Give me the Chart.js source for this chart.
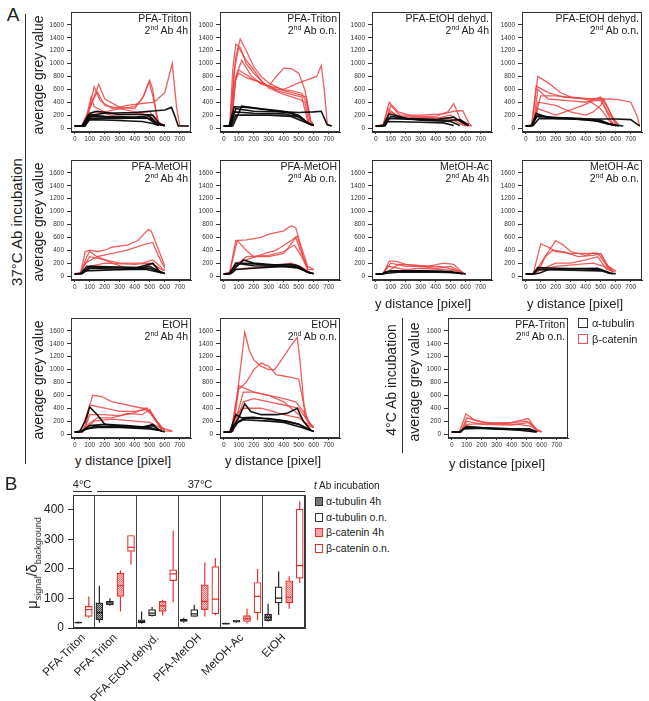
<!DOCTYPE html>
<html>
<head>
<meta charset="utf-8">
<script src="https://cdn.jsdelivr.net/npm/chart.js@4.4.0/dist/chart.umd.min.js"></script>
<style>
  body { margin:0; background:#fff; font-family:"Liberation Sans", Arial, sans-serif; color:#222; }
  #fig { position:relative; width:649px; height:701px; overflow:hidden; }
  .cv { position:absolute; }
  .ttl { position:absolute; text-align:right; font-size:10.5px; line-height:12px; white-space:nowrap; }
  .ttl sup { font-size:7px; line-height:0; vertical-align:4px; }
  .vl { position:absolute; transform:translate(-50%,-50%) rotate(-90deg); white-space:nowrap; }
  .hl { position:absolute; transform:translate(-50%,-50%); white-space:nowrap; }
  .ln { position:absolute; background:#333; }
  .sq { position:absolute; box-sizing:border-box; }
</style>
</head>
<body>
<div id="fig"></div>
<script>
// ---- panel A: tick labels ----
const xTicksA = [0, 100, 200, 300, 400, 500, 600, 700]
const yTicksA = [0, 200, 400, 600, 800, 1000, 1200, 1400, 1600]

// ---- panel A: profiles, [y distance, average grey value] ----
const tritonRed4h = [
  [[0,30],[45,30],[80,200],[110,480],[130,330],[200,250],[300,300],[400,330],[450,450],[500,740],[520,600],[550,100],[600,40]],
  [[0,30],[50,30],[100,300],[160,680],[200,450],[300,320],[400,300],[460,500],[495,720],[520,500],[560,80],[600,40]],
  [[0,30],[50,30],[90,250],[130,640],[170,420],[250,300],[350,350],[450,380],[530,400],[600,550],[650,1000],[680,300],[700,40],[760,30]],
  [[0,30],[60,30],[110,380],[150,560],[200,350],[300,300],[400,250],[480,200],[520,120],[570,40]],
  [[0,30],[60,30],[100,200],[130,260],[250,200],[400,220],[500,260],[540,100],[580,40]]
]
const tritonBlack4h = [
  [[0,30],[50,30],[100,230],[150,260],[300,210],[450,210],[520,200],[570,50],[600,40]],
  [[0,30],[70,30],[100,150],[300,150],[480,160],[530,80],[560,40]],
  [[0,30],[50,30],[90,200],[200,180],[400,170],[500,190],[540,80],[600,30]],
  [[0,30],[60,30],[100,130],[250,120],[450,100],[520,70],[560,40]],
  [[0,30],[60,30],[110,200],[200,230],[400,240],[600,280],[645,320],[665,200],[690,30],[760,30]],
  [[0,30],[60,30],[95,180],[300,160],[500,150],[560,60],[600,40]]
]
const tritonRedON = [
  [[0,30],[40,30],[60,600],[80,1100],[110,1380],[150,1200],[200,950],[250,800],[300,700],[400,580],[500,520],[550,480],[580,100],[600,50]],
  [[0,30],[40,30],[60,900],[80,1300],[110,1250],[150,1000],[200,850],[300,620],[400,520],[500,450],[540,400],[570,60]],
  [[0,30],[50,30],[80,800],[120,1050],[180,820],[250,680],[300,650],[350,800],[400,930],[450,920],[500,850],[540,600],[580,100],[600,50]],
  [[0,30],[50,30],[70,700],[100,900],[200,750],[300,650],[400,600],[500,700],[560,750],[620,800],[650,970],[670,600],[690,60],[720,30]],
  [[0,30],[50,30],[80,750],[100,850],[150,780],[250,700],[350,600],[450,580],[520,540],[550,400],[575,100]],
  [[0,30],[45,30],[70,900],[100,1250],[150,1050],[200,900],[260,700],[350,580],[450,520],[520,480],[560,100],[590,50]]
]
const tritonBlackON = [
  [[0,30],[35,30],[70,330],[150,320],[300,280],[450,230],[520,150],[580,50],[600,40]],
  [[0,30],[40,30],[70,250],[200,230],[400,220],[500,170],[570,60]],
  [[0,30],[45,30],[80,300],[200,260],[400,250],[500,240],[600,250],[650,260],[690,50],[720,30]],
  [[0,30],[50,30],[80,200],[300,200],[450,180],[530,100],[600,40]],
  [[0,30],[60,30],[120,340],[250,300],[400,260],[500,200],[560,80],[600,40]]
]
const dehydRed4h = [
  [[0,30],[50,50],[90,400],[150,250],[250,180],[400,180],[480,250],[520,380],[560,150],[600,50],[640,30]],
  [[0,30],[60,60],[100,350],[160,200],[300,200],[450,220],[520,260],[580,270],[620,80],[640,30]],
  [[0,30],[60,50],[90,250],[200,150],[400,150],[500,200],[560,100],[600,40]],
  [[0,30],[50,40],[80,300],[150,180],[350,160],[500,150],[550,80],[600,30]]
]
const dehydBlack4h = [
  [[0,30],[50,40],[90,220],[200,150],[400,130],[520,170],[580,80],[620,30]],
  [[0,30],[60,40],[100,180],[300,120],[500,100],[560,40]],
  [[0,30],[50,40],[80,150],[300,130],[500,120],[560,130],[620,50]],
  [[0,30],[60,30],[80,100],[300,90],[450,80],[520,40]]
]
const dehydRedON = [
  [[0,30],[40,50],[80,800],[150,700],[230,550],[300,480],[400,450],[500,460],[570,100],[600,30]],
  [[0,30],[40,50],[70,650],[150,550],[250,480],[350,460],[450,450],[550,450],[620,440],[700,400],[740,200],[760,30]],
  [[0,30],[50,50],[80,600],[150,450],[300,420],[400,400],[500,480],[550,300],[600,50]],
  [[0,30],[50,40],[80,400],[200,350],[300,250],[400,200],[450,250],[500,350],[520,450],[570,200],[620,50]],
  [[0,30],[50,40],[80,300],[200,200],[300,280],[380,350],[450,420],[500,430],[560,200],[620,30]],
  [[0,30],[50,40],[100,500],[200,500],[300,480],[400,460],[500,300],[560,100],[600,30]]
]
const dehydBlackON = [
  [[0,30],[40,40],[70,230],[150,160],[350,150],[500,120],[560,60],[620,30]],
  [[0,30],[40,40],[80,200],[200,150],[400,140],[600,140],[700,130],[760,30]],
  [[0,30],[40,40],[70,180],[300,150],[500,100],[600,40]],
  [[0,30],[50,40],[90,150],[300,140],[450,120],[550,60],[650,30]]
]
const metohRed4h = [
  [[0,30],[40,60],[70,380],[100,400],[150,380],[200,400],[250,450],[350,480],[420,550],[490,720],[510,700],[560,400],[600,150]],
  [[0,30],[40,50],[70,200],[150,300],[250,350],[350,400],[450,480],[520,520],[560,300],[600,120]],
  [[0,30],[40,50],[80,300],[100,380],[150,300],[250,200],[350,120],[450,120],[520,200],[560,120],[600,100]],
  [[0,30],[40,40],[60,150],[100,300],[200,250],[300,200],[450,200],[520,250],[580,130]],
  [[0,30],[40,40],[70,100],[100,150],[200,200],[400,180],[500,200],[600,80]]
]
const metohBlack4h = [
  [[0,30],[40,40],[80,150],[200,130],[400,120],[520,200],[560,80],[600,40]],
  [[0,30],[50,40],[100,120],[300,100],[480,100],[560,60],[600,40]],
  [[0,30],[40,40],[60,80],[200,90],[400,110],[500,120],[580,50]],
  [[0,30],[50,40],[100,150],[300,140],[450,130],[500,150],[580,50]]
]
const metohRedON = [
  [[0,30],[40,60],[80,550],[150,560],[250,600],[300,650],[400,700],[450,780],[480,750],[510,500],[560,150],[600,100]],
  [[0,30],[40,60],[90,550],[150,400],[200,300],[300,300],[400,350],[450,500],[480,600],[510,400],[560,120]],
  [[0,30],[40,50],[80,200],[150,250],[250,330],[350,400],[450,550],[490,620],[530,300],[560,100]],
  [[0,30],[40,50],[80,150],[150,300],[300,320],[400,380],[470,480],[520,300],[560,100],[600,100]],
  [[0,30],[40,40],[70,100],[150,120],[300,150],[450,200],[510,150],[560,80]]
]
const metohBlackON = [
  [[0,30],[40,40],[130,250],[200,200],[350,170],[480,170],[560,60],[600,40]],
  [[0,30],[40,40],[80,200],[200,160],[400,150],[500,150],[560,60]],
  [[0,30],[40,40],[70,150],[120,200],[300,170],[450,180],[520,100],[600,30]],
  [[0,30],[50,40],[80,100],[200,120],[400,150],[500,120],[580,40]]
]
const acRed4h = [
  [[0,30],[50,40],[90,230],[130,230],[200,180],[350,150],[450,200],[520,180],[580,50],[600,30]],
  [[0,30],[50,40],[100,200],[200,150],[300,150],[400,120],[500,150],[580,50]],
  [[0,30],[50,40],[80,150],[200,100],[300,120],[450,100],[550,80],[600,30]],
  [[0,30],[60,40],[100,100],[150,180],[300,160],[450,140],[520,100],[580,30]]
]
const acBlack4h = [
  [[0,30],[40,30],[60,60],[100,80],[300,80],[500,70],[580,30]],
  [[0,30],[40,30],[60,40],[150,60],[400,60],[550,50],[600,30]],
  [[0,30],[50,30],[80,70],[250,80],[450,70],[560,40]]
]
const acRedON = [
  [[0,30],[50,40],[100,500],[150,450],[200,380],[300,350],[400,350],[480,350],[530,200],[580,80]],
  [[0,30],[60,40],[100,200],[200,550],[250,480],[300,380],[400,320],[450,360],[500,340],[540,150],[580,60]],
  [[0,30],[60,40],[100,150],[130,300],[180,400],[250,380],[350,300],[450,320],[500,350],[550,150],[600,80]],
  [[0,30],[60,40],[100,100],[200,200],[300,200],[400,250],[480,300],[540,100],[600,60]],
  [[0,30],[50,40],[80,80],[200,150],[350,180],[450,200],[520,150],[580,80]]
]
const acBlackON = [
  [[0,30],[50,40],[80,130],[200,120],[400,110],[500,100],[560,50],[600,30]],
  [[0,30],[60,30],[100,50],[150,100],[300,110],[480,120],[560,40]],
  [[0,30],[50,30],[80,100],[300,90],[500,80],[580,30]]
]
const etohRed4h = [
  [[0,30],[40,30],[80,300],[120,600],[180,580],[250,500],[350,450],[450,400],[480,400],[530,250],[600,50],[650,40]],
  [[0,30],[50,30],[80,200],[100,450],[200,400],[300,350],[400,350],[470,380],[520,300],[580,60]],
  [[0,30],[50,30],[70,100],[100,300],[200,300],[300,280],[400,330],[480,400],[540,200],[600,50]],
  [[0,30],[50,30],[90,150],[150,250],[250,250],[350,320],[450,300],[500,380],[570,100],[650,50]],
  [[0,30],[50,30],[80,100],[130,200],[250,230],[400,200],[500,180],[600,60]]
]
const etohBlack4h = [
  [[0,30],[30,30],[70,200],[100,420],[150,300],[200,150],[300,120],[450,100],[520,150],[560,60],[600,30]],
  [[0,30],[50,50],[100,130],[200,150],[350,130],[500,100],[560,60]],
  [[0,30],[50,40],[70,80],[150,100],[300,100],[500,80],[580,50]],
  [[0,30],[40,40],[60,60],[130,120],[300,110],[450,110],[520,130],[580,40]]
]
const etohRedON = [
  [[0,30],[50,40],[90,600],[140,1580],[170,1300],[200,1150],[250,1050],[300,1000],[340,1000],[400,1200],[450,1380],[490,1500],[510,1100],[540,300],[580,100]],
  [[0,30],[60,40],[100,700],[150,800],[200,1000],[250,1100],[300,1050],[350,920],[400,900],[450,880],[500,850],[530,500],[560,200],[600,100]],
  [[0,30],[50,40],[100,750],[150,700],[200,650],[300,600],[400,500],[450,400],[500,300],[550,150],[600,100]],
  [[0,30],[60,40],[130,650],[200,650],[300,600],[400,550],[480,500],[530,350],[580,150]],
  [[0,30],[60,40],[130,500],[200,550],[300,500],[400,450],[500,400],[560,200],[600,100]],
  [[0,30],[50,40],[80,300],[130,400],[250,400],[400,300],[500,250],[560,150]]
]
const etohBlackON = [
  [[0,30],[40,30],[100,250],[140,470],[180,350],[250,300],[350,300],[420,320],[490,400],[530,200],[580,60]],
  [[0,30],[40,30],[80,300],[120,250],[200,260],[300,230],[400,200],[500,150],[580,60]],
  [[0,30],[50,30],[100,200],[150,250],[300,240],[420,200],[500,150],[560,80],[600,40]],
  [[0,30],[40,30],[70,150],[130,220],[300,200],[400,180],[520,100],[600,40]]
]
const cold4Red = [
  [[0,30],[50,30],[95,310],[150,220],[250,170],[400,180],[510,240],[570,50],[600,30]],
  [[0,30],[60,30],[100,250],[200,180],[350,160],[500,200],[560,80],[600,40]],
  [[0,30],[60,30],[100,200],[200,150],[400,140],[520,180],[570,50]],
  [[0,30],[60,30],[100,150],[250,160],[450,150],[530,120],[580,40]]
]
const cold4Black = [
  [[0,30],[50,30],[100,120],[200,100],[400,80],[520,80],[570,30]],
  [[0,30],[60,30],[90,100],[300,80],[500,70],[560,30]],
  [[0,30],[50,30],[80,80],[200,90],[450,60],[560,30]]
]

// ---- panel B: box plot, [min, q1, median, q3, max] per group ----
const boxGroups = ['PFA-Triton', 'PFA-Triton', 'PFA-EtOH dehyd.', 'PFA-MetOH', 'MetOH-Ac', 'EtOH']
const yTicksB = [0, 100, 200, 300, 400]
const tubulin4h = [null, [18,28,52,85,143], [15,17,22,28,56], [18,22,26,30,35], [12,13,15,17,18], [22,25,36,47,82]]
const tubulinON = [[15,17,18,20,22], [75,79,85,90,101], [39,42,50,62,71], [37,39,48,62,79], [18,20,23,26,28], [44,85,101,139,191]]
const catenin4h = [null, [56,107,143,186,195], [42,56,75,90,96], [39,62,90,146,222], [15,22,32,42,65], [65,85,104,160,175]]
const cateninON = [[34,39,62,73,107], [214,259,273,313,315], [87,160,183,197,329], [43,48,98,208,237], [26,51,107,154,200], [152,169,211,402,428]]

const fig = document.getElementById('fig')
const RED = 'rgba(236,66,66,0.85)'
const BLACK = 'rgba(8,8,8,0.95)'

const framePlugin = {
  id: 'frame',
  afterDraw(chart) {
    const { ctx, chartArea: a } = chart
    ctx.save()
    ctx.strokeStyle = '#333'
    ctx.lineWidth = 1
    ctx.strokeRect(Math.round(a.left) + 0.5, Math.round(a.top) + 0.5, Math.round(a.right - a.left) - 1, Math.round(a.bottom - a.top) - 1)
    ctx.restore()
  }
}

const addHtml = (cls, html, left, top, style) => {
  const d = document.createElement('div')
  d.className = cls
  d.innerHTML = html
  d.style.left = left + 'px'
  d.style.top = top + 'px'
  if (style) d.style.cssText += style
  fig.appendChild(d)
  return d
}

const toXY = (curve) => curve.map(p => ({ x: p[0], y: p[1] }))

const PW = 120, PH = 120, YAW = 34, XAH = 12

const drawPanel = (p) => {
  const c = document.createElement('canvas')
  c.width = YAW + PW + 2
  c.height = PH + XAH + 1
  c.className = 'cv'
  c.style.left = (p.left - YAW) + 'px'
  c.style.top = (p.top - 1) + 'px'
  fig.appendChild(c)

  const datasets = []
  p.black.forEach(cv => datasets.push({ data: toXY(cv), borderColor: BLACK, borderWidth: 1.6, showLine: true, pointRadius: 0 }))
  p.red.forEach(cv => datasets.push({ data: toXY(cv), borderColor: RED, borderWidth: 1.3, showLine: true, pointRadius: 0 }))

  new Chart(c, {
    type: 'scatter',
    data: { datasets },
    options: {
      responsive: false,
      animation: false,
      devicePixelRatio: 1,
      layout: { padding: { top: 1, right: 2, left: 0, bottom: 0 } },
      plugins: { legend: { display: false }, tooltip: { enabled: false } },
      scales: {
        x: {
          type: 'linear', min: -25, max: 775,
          afterBuildTicks: s => { s.ticks = xTicksA.map(v => ({ value: v })) },
          afterFit: s => { s.height = XAH; s.paddingLeft = 0; s.paddingRight = 0 },
          grid: { drawOnChartArea: false, tickLength: 2, color: '#333' },
          border: { color: '#333' },
          ticks: { font: { size: 6.5, family: 'Liberation Sans' }, color: '#333', padding: 1, maxRotation: 0, autoSkip: false, callback: v => String(v) }
        },
        y: {
          type: 'linear', min: -62, max: 1800,
          afterBuildTicks: s => { s.ticks = yTicksA.map(v => ({ value: v })) },
          afterFit: s => { s.width = YAW; s.paddingTop = 0; s.paddingBottom = 0 },
          grid: { drawOnChartArea: false, tickLength: 4, color: '#333' },
          border: { color: '#333' },
          ticks: { font: { size: 6.5, family: 'Liberation Sans' }, color: '#333', padding: 3, autoSkip: false, callback: v => String(v) }
        }
      }
    },
    plugins: [framePlugin]
  })

  addHtml('ttl', p.title + '<br>2<sup>nd</sup> Ab ' + p.time, 0, p.top, 'left:auto;right:' + (649 - p.left - PW + 3) + 'px')
}

const panels = [
  { left: 71, top: 12, title: 'PFA-Triton', time: '4h', red: tritonRed4h, black: tritonBlack4h },
  { left: 220, top: 12, title: 'PFA-Triton', time: 'o.n.', red: tritonRedON, black: tritonBlackON },
  { left: 372, top: 12, title: 'PFA-EtOH dehyd.', time: '4h', red: dehydRed4h, black: dehydBlack4h },
  { left: 522, top: 12, title: 'PFA-EtOH dehyd.', time: 'o.n.', red: dehydRedON, black: dehydBlackON },
  { left: 71, top: 160, title: 'PFA-MetOH', time: '4h', red: metohRed4h, black: metohBlack4h },
  { left: 220, top: 160, title: 'PFA-MetOH', time: 'o.n.', red: metohRedON, black: metohBlackON },
  { left: 372, top: 160, title: 'MetOH-Ac', time: '4h', red: acRed4h, black: acBlack4h },
  { left: 522, top: 160, title: 'MetOH-Ac', time: 'o.n.', red: acRedON, black: acBlackON },
  { left: 71, top: 318, title: 'EtOH', time: '4h', red: etohRed4h, black: etohBlack4h },
  { left: 220, top: 318, title: 'EtOH', time: 'o.n.', red: etohRedON, black: etohBlackON },
  { left: 448, top: 318, title: 'PFA-Triton', time: 'o.n.', red: cold4Red, black: cold4Black }
]
panels.forEach(drawPanel)

// ---- panel A labels ----
addHtml('hl', 'A', 13, 15, 'font-size:19px;')
addHtml('ln', '', 25, 14, 'width:1px;height:450px;')
addHtml('vl', '37°C Ab incubation', 16, 222, 'font-size:15px;')
addHtml('vl', 'average grey value', 38, 75, 'font-size:14px;')
addHtml('vl', 'average grey value', 38, 222, 'font-size:14px;')
addHtml('vl', 'average grey value', 38, 380, 'font-size:14px;')
addHtml('hl', 'y distance [pixel]', 423, 303, 'font-size:13px;')
addHtml('hl', 'y distance [pixel]', 575, 303, 'font-size:13px;')
addHtml('hl', 'y distance [pixel]', 123, 460, 'font-size:13px;')
addHtml('hl', 'y distance [pixel]', 273, 460, 'font-size:13px;')
addHtml('hl', 'y distance [pixel]', 497, 463, 'font-size:13px;')
addHtml('ln', '', 402, 318, 'width:1px;height:135px;')
addHtml('vl', '4°C Ab incubation', 391, 380, 'font-size:14px;')
addHtml('vl', 'average grey value', 414, 382, 'font-size:14px;')
addHtml('sq', '', 578, 318, 'width:10px;height:10px;border:1px solid #333;')
addHtml('sq', '', 578, 334, 'width:10px;height:10px;border:1px solid #e85555;')
addHtml('ttl', 'α-tubulin', 592, 317, 'text-align:left;font-size:11px;')
addHtml('ttl', 'β-catenin', 592, 333, 'text-align:left;font-size:11px;')

// ---- panel B ----
const hatch = (bg, fg) => {
  const pc = document.createElement('canvas')
  pc.width = 2; pc.height = 2
  const g = pc.getContext('2d')
  g.fillStyle = bg; g.fillRect(0, 0, 2, 2)
  g.fillStyle = fg; g.fillRect(0, 0, 1, 1); g.fillRect(1, 1, 1, 1)
  return g.createPattern(pc, 'repeat')
}
const darkHatch = hatch('#b0b0b0', '#3a3a3a')
const pinkHatch = hatch('#fcd0d0', '#ef7070')

const slotX = (g, s) => g === 0 ? (s === 1 ? 0.5 : 1.5) : 2 + 4 * (g - 1) + s + 0.5
const sepTicks = [0, 2, 6, 10, 14, 18, 22]
const groupCenters = [1, 4, 8, 12, 16, 20]

const series = [
  { stats: tubulin4h, line: '#222', fill: darkHatch },
  { stats: tubulinON, line: '#222', fill: '#ffffff' },
  { stats: catenin4h, line: '#e8312d', fill: pinkHatch },
  { stats: cateninON, line: '#e8312d', fill: '#ffffff' }
]
const boxDatasets = []
series.forEach((se, s) => {
  const boxes = [], whisk = [], meds = []
  se.stats.forEach((st, g) => {
    if (!st) return
    const c = slotX(g, s)
    boxes.push({ x: c, y: [st[1], st[3]] })
    whisk.push({ x: c, y: st[4] }, { x: c, y: st[3] }, { x: c, y: null }, { x: c, y: st[1] }, { x: c, y: st[0] }, { x: c, y: null })
    meds.push({ x: c - 0.33, y: st[2] }, { x: c + 0.33, y: st[2] }, { x: c, y: null })
  })
  boxDatasets.push({ type: 'bar', data: boxes, backgroundColor: se.fill, borderColor: se.line, borderWidth: 1.2, borderSkipped: false, barThickness: 7, grouped: false, order: 2 })
  boxDatasets.push({ type: 'line', data: whisk, borderColor: se.line, borderWidth: 1.2, pointRadius: 0, spanGaps: false, order: 3 })
  boxDatasets.push({ type: 'line', data: meds, borderColor: se.line, borderWidth: 1.2, pointRadius: 0, spanGaps: false, order: 1 })
})

const cb = document.createElement('canvas')
cb.width = 306
cb.height = 1 + 133 + 75
cb.className = 'cv'
cb.style.left = '0px'
cb.style.top = '494px'
fig.appendChild(cb)

new Chart(cb, {
  type: 'bar',
  data: { datasets: boxDatasets },
  options: {
    responsive: false,
    animation: false,
    devicePixelRatio: 1,
    layout: { padding: { top: 1, right: 1, left: 0, bottom: 0 } },
    plugins: { legend: { display: false }, tooltip: { enabled: false } },
    scales: {
      x: {
        type: 'linear', min: 0, max: 22, offset: false, position: 'bottom',
        afterBuildTicks: s => { s.ticks = sepTicks.map(v => ({ value: v })) },
        afterFit: s => { s.height = 0; s.paddingLeft = 0; s.paddingRight = 0 },
        grid: { drawOnChartArea: true, drawTicks: false, color: '#444', offset: false },
        border: { color: '#333' },
        ticks: { display: false }
      },
      xl: {
        type: 'linear', min: 0, max: 22, offset: false, position: 'bottom',
        afterBuildTicks: s => { s.ticks = groupCenters.map(v => ({ value: v })) },
        afterFit: s => { s.height = 75; s.paddingLeft = 0; s.paddingRight = 0 },
        grid: { display: false },
        border: { display: false },
        ticks: {
          autoSkip: false, minRotation: 45, maxRotation: 45, padding: -5, color: '#222',
          font: { size: 11.5, family: 'Liberation Sans' },
          callback: (v, i) => boxGroups[i]
        }
      },
      y: {
        type: 'linear', min: 0, max: 450,
        afterBuildTicks: s => { s.ticks = yTicksB.map(v => ({ value: v })) },
        afterFit: s => { s.width = 73; s.paddingTop = 0; s.paddingBottom = 0 },
        grid: { drawOnChartArea: false, tickLength: 5, color: '#333' },
        border: { color: '#333' },
        ticks: { font: { size: 12, family: 'Liberation Sans' }, color: '#222', padding: 4, autoSkip: false }
      }
    }
  },
  plugins: [framePlugin]
})

addHtml('hl', 'B', 11, 484, 'font-size:19px;')
addHtml('hl', '4°C', 82, 484, 'font-size:11px;')
addHtml('ln', '', 73, 491, 'width:19px;height:1px;')
addHtml('hl', '37°C', 200, 484, 'font-size:11px;')
addHtml('ln', '', 97, 491, 'width:208px;height:1px;')
addHtml('vl', 'μ<sub style="font-size:9px">signal</sub>/δ<sub style="font-size:9px">background</sub>', 33, 563, 'font-size:15px;')
addHtml('ttl', '<i>t</i> Ab incubation', 314, 480, 'text-align:left;font-size:10px;')
const legB = [
  ['α-tubulin 4h', 'background:#777;border:1px solid #333;'],
  ['α-tubulin o.n.', 'background:#fff;border:1px solid #333;'],
  ['β-catenin 4h', 'background:#f6a3a3;border:1px solid #e8312d;'],
  ['β-catenin o.n.', 'background:#fff;border:1px solid #e8312d;']
]
legB.forEach((it, i) => {
  addHtml('sq', '', 315, 497 + i * 15.5, 'width:8px;height:9px;' + it[1])
  addHtml('ttl', it[0], 326, 495 + i * 15.5, 'text-align:left;font-size:10.5px;')
})
</script>
</body>
</html>
